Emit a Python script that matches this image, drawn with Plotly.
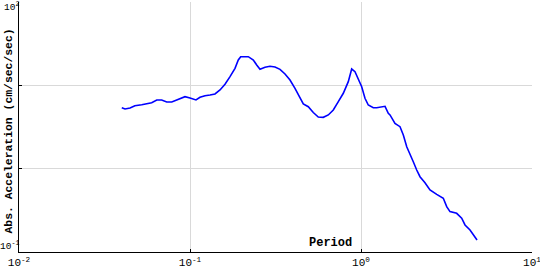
import plotly.graph_objects as go
import math

period = [0.0399, 0.0417, 0.0446, 0.0476, 0.0522, 0.0558, 0.0597, 0.0639, 0.0683, 0.0731,
          0.0782, 0.0836, 0.0894, 0.0935, 0.1000, 0.1084, 0.1144, 0.1224, 0.1309, 0.1400,
          0.1498, 0.1602, 0.1714, 0.1833, 0.1916, 0.1979, 0.2193, 0.2346, 0.2455, 0.2567,
          0.2746, 0.2936, 0.3142, 0.3360, 0.3594, 0.3844, 0.4111, 0.4397, 0.4598, 0.4918,
          0.5260, 0.5625, 0.6017, 0.6438, 0.6887, 0.7368, 0.7880, 0.8427, 0.8822, 0.9223,
          0.9643, 1.0095, 1.055, 1.103, 1.180, 1.235, 1.382, 1.444, 1.478, 1.580,
          1.691, 1.768, 1.851, 1.934, 2.022, 2.117, 2.213, 2.367, 2.532, 2.772,
          3.029, 3.171, 3.315, 3.627, 3.880, 4.058, 4.340, 4.770]
accel = [5.39, 5.20, 5.35, 5.70, 5.86, 5.97, 6.19, 6.67, 6.67, 6.31,
         6.31, 6.67, 6.99, 7.31, 7.05, 6.67, 7.18, 7.51, 7.66, 7.87,
         8.79, 10.29, 12.70, 16.01, 20.14, 22.06, 22.06, 20.14, 17.54, 15.57,
         16.46, 16.92, 16.60, 15.57, 13.68, 11.59, 9.21, 7.05, 6.00, 5.54,
         4.72, 4.17, 4.13, 4.41, 5.06, 6.36, 8.03, 11.06, 15.70, 14.58,
         12.15, 9.63, 6.99, 5.81, 5.39, 5.39, 5.60, 4.62, 4.41, 3.50,
         3.19, 2.54, 1.835, 1.459, 1.212, 0.964, 0.801, 0.679, 0.555, 0.492,
         0.441, 0.350, 0.305, 0.291, 0.254, 0.211, 0.184, 0.139]

x_tickvals = [0.01, 0.1, 1, 10]
x_ticktext = ["10<sup>-2</sup>", "10<sup>-1</sup>", "10<sup>0</sup>", "10<sup>1</sup>"]
y_tickvals = [0.1, 1, 10, 100]
y_ticktext = ["10<sup>-1</sup>", "", "", "10<sup>2</sup>"]

x_title = "Period"
y_title = "Abs. Acceleration (cm/sec/sec)"

fig = go.Figure()
fig.add_trace(go.Scatter(x=period, y=accel, mode="lines",
                         line=dict(color="#0000ff", width=1.6), showlegend=False))

tickfont = dict(family="Liberation Mono", size=11, color="black")
ytickfont = dict(family="Liberation Mono", size=9.5, color="black")
common = dict(type="log", showgrid=True, gridcolor="#d9d9d9", gridwidth=1,
              showline=True, linecolor="black", linewidth=1,
              ticks="inside", ticklen=3, tickcolor="black",
              tickfont=tickfont, zeroline=False, automargin=False,
              ticklabeloverflow="allow")
fig.update_xaxes(range=[-2, 1], tickvals=x_tickvals, ticktext=x_ticktext, **common)
# y tick labels drawn as annotations so they stay inside the figure
fig.update_yaxes(range=[-1, 2], tickvals=y_tickvals, ticktext=[""] * len(y_tickvals), **common)
for v, t in zip(y_tickvals, y_ticktext):
    if not t:
        continue
    lv = math.log10(v)
    top = lv >= 2
    fig.add_annotation(text=t, xref="paper", yref="y", x=0, y=lv,
                       xanchor="right", yanchor="top" if top else "bottom",
                       yshift=3 if top else -1, xshift=1,
                       showarrow=False, font=ytickfont, borderpad=0)

titlefont = dict(family="Liberation Mono", size=12, color="black")
fig.add_annotation(text="<b>" + x_title + "</b>", xref="paper", yref="paper",
                   x=0.607, y=0.036, xanchor="center", yanchor="middle",
                   showarrow=False, font=titlefont)
fig.add_annotation(text="<b>" + y_title + "</b>", xref="paper", yref="paper",
                   x=-0.0195, y=0.486, xanchor="center", yanchor="middle",
                   textangle=-90, showarrow=False,
                   font=dict(family="Liberation Mono", size=11.4, color="black"))

fig.update_layout(width=540, height=270, margin=dict(l=19, r=8, t=2, b=18, autoexpand=False),
                  paper_bgcolor="white", plot_bgcolor="white")
fig.write_html("out.html")
